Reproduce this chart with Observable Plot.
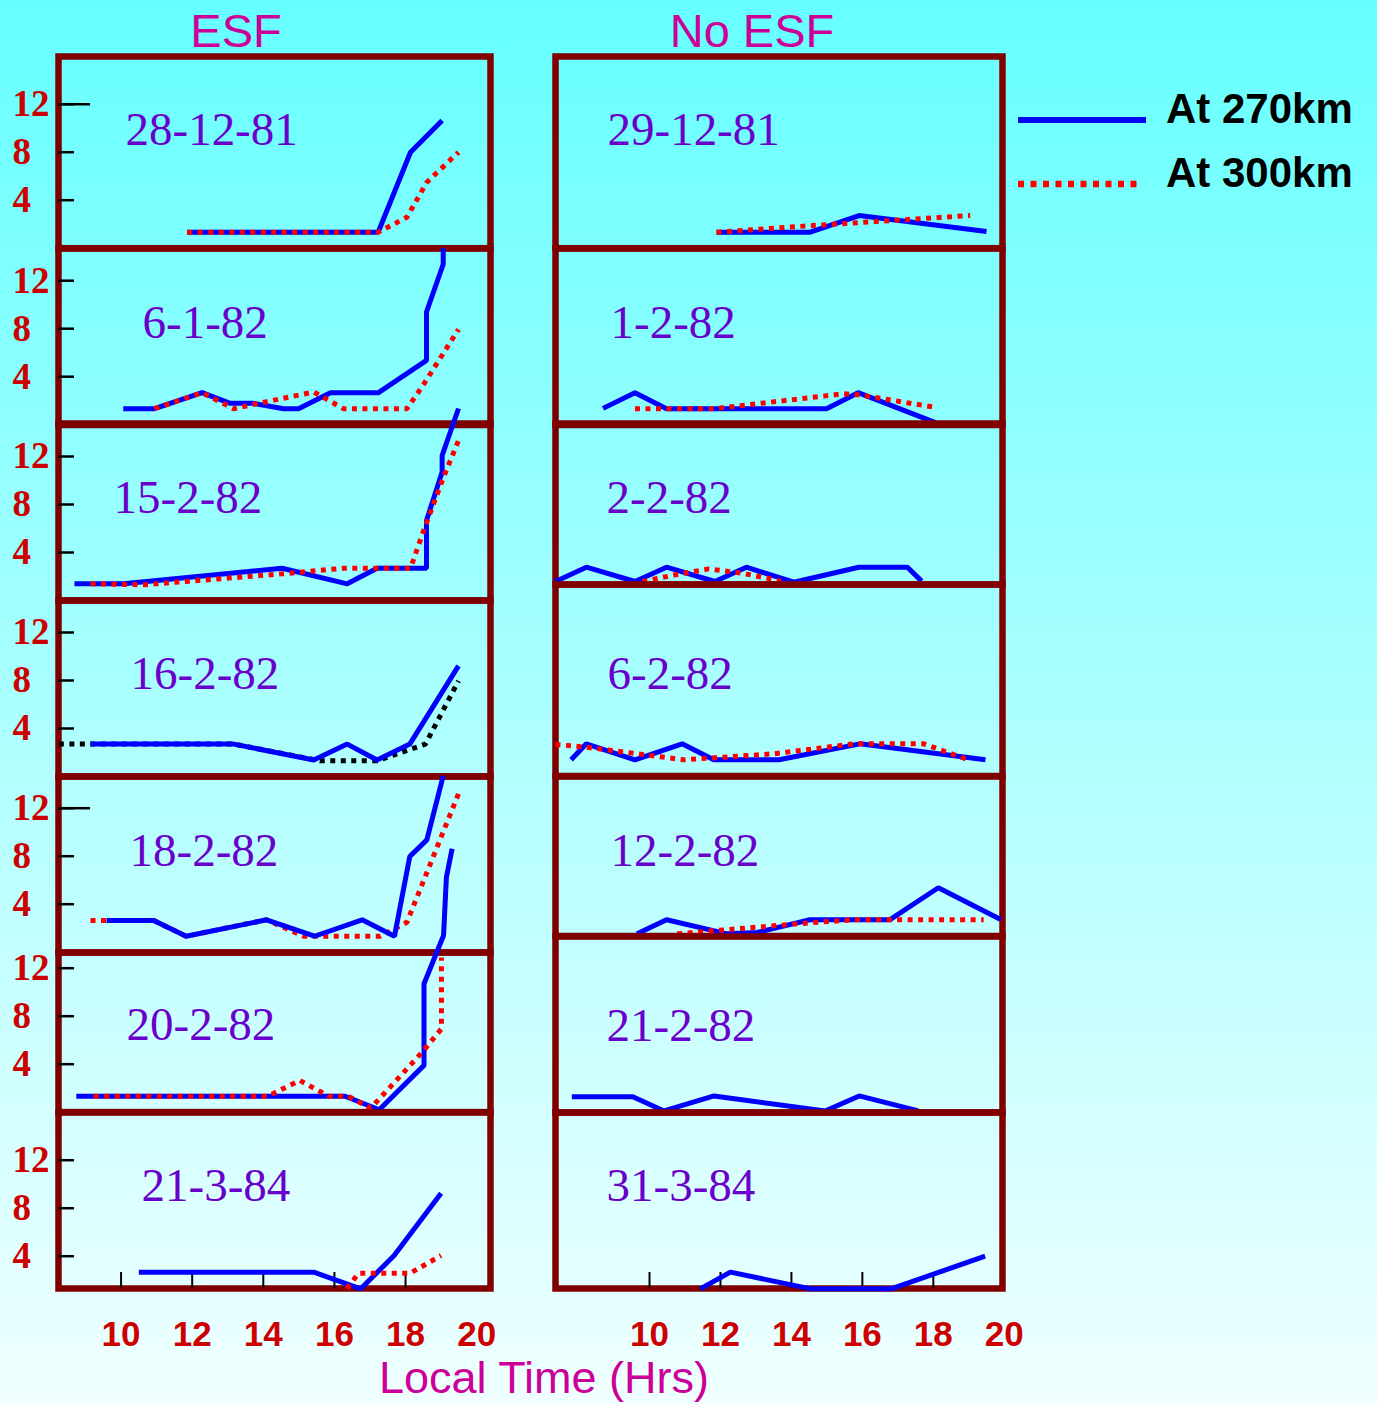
<!DOCTYPE html>
<html><head><meta charset="utf-8">
<script src="https://cdn.jsdelivr.net/npm/d3@7"></script>
<script src="https://cdn.jsdelivr.net/npm/@observablehq/plot@0.6"></script>
<style>
html,body{margin:0;padding:0;}
#root{position:relative;width:1377px;height:1404px;overflow:hidden;background:linear-gradient(to bottom,#66ffff 0%,#f0ffff 100%);}
#root svg{position:absolute;}
</style></head><body><div id="root"></div>
<script>
// ---------------- DATA ----------------
const esfDates = ["28-12-81","6-1-82","15-2-82","16-2-82","18-2-82","20-2-82","21-3-84"];
const noEsfDates = ["29-12-81","1-2-82","2-2-82","6-2-82","12-2-82","21-2-82","31-3-84"];
const yTickValues = [4, 8, 12];
const xTickMarks = [10, 12, 14, 16, 18];
const xTickLabels = [10, 12, 14, 16, 18, 20];
const seriesNames = ["At 270km", "At 300km"];

// [local time (hrs), value]
const esf1_270 = [[11.86,1.33],[17.23,1.33],[18.14,8.0],[19.03,10.64]];
const esf1_300 = [[11.86,1.33],[17.23,1.33],[18.04,2.58],[18.6,5.5],[19.49,8.0]];
const esf2_270 = [[10.06,1.33],[10.94,1.33],[12.28,2.67],[13.07,1.78],[13.73,1.78],[14.57,1.33],[14.99,1.33],[15.89,2.67],[17.24,2.67],[18.59,5.36],[18.59,9.39],[19.06,13.37],[19.06,14.7]];
const esf2_300 = [[10.94,1.33],[12.28,2.67],[13.17,1.33],[13.73,1.7],[15.42,2.72],[16.26,1.33],[18.04,1.33],[18.51,3.36],[19.49,7.95]];
const esf3_270 = [[8.69,1.39],[10.07,1.39],[14.53,2.69],[16.36,1.39],[17.2,2.69],[18.59,2.69],[18.59,6.67],[19.03,10.7],[19.03,12.08],[19.49,16.0]];
const esf3_300 = [[9.14,1.39],[10.64,1.31],[14.53,2.22],[16.26,2.69],[18.14,2.69],[18.51,5.83],[19.07,10.28],[19.49,13.33]];
const esf4_270 = [[9.14,2.7],[13.17,2.7],[15.42,1.37],[16.36,2.7],[17.2,1.37],[18.12,2.7],[19.49,9.22]];
const esf4_300 = [[8.25,2.7],[13.17,2.7],[15.6,1.31],[17.2,1.31],[18.56,2.7],[19.49,7.97]];
const esf5_270 = [[9.59,2.64],[10.92,2.64],[11.83,1.33],[14.09,2.7],[15.44,1.33],[16.78,2.7],[17.69,1.33],[18.12,7.98],[18.6,9.36],[19.06,14.7]];
const esf5_300 = [[9.14,2.64],[10.92,2.64],[11.83,1.33],[14.09,2.7],[15.14,1.33],[17.29,1.33],[18.04,2.5],[19.49,13.2]];
const esf6_270 = [[8.74,1.33],[16.3,1.33],[17.26,0.2],[18.52,3.9],[18.52,10.7],[19.07,14.73],[19.15,19.58],[19.31,21.95]];
const esf6_300 = [[9.23,1.33],[14.12,1.33],[15.03,2.64],[15.84,1.33],[16.39,1.33],[17.02,0.33],[18.47,5.0],[19.01,6.95],[19.01,12.9]];
const esf7_270 = [[10.5,2.67],[15.42,2.67],[16.74,1.28],[17.68,4.06],[19.0,9.25]];
const esf7_300 = [[16.35,1.3],[16.68,2.58],[18.13,2.58],[19.0,4.06]];

const no1_270 = [[11.89,1.33],[14.53,1.33],[15.91,2.72],[19.5,1.39]];
const no1_300 = [[11.89,1.33],[14.6,1.89],[19.04,2.72]];
const no2_270 = [[8.69,1.36],[9.59,2.67],[10.48,1.33],[14.99,1.33],[15.88,2.67],[18.06,0.17]];
const no2_300 = [[9.59,1.33],[11.81,1.33],[15.48,2.58],[15.95,2.47],[18.11,1.42]];
const no3_270 = [[7.35,0.25],[8.22,1.44],[9.59,0.25],[10.48,1.44],[11.84,0.25],[12.73,1.44],[14.07,0.19],[15.9,1.44],[17.27,1.44],[17.67,0.28]];
const no3_300 = [[9.8,0.25],[10.8,0.85],[11.67,1.3],[12.6,0.95],[13.7,0.3]];
const no4_270 = [[7.79,1.35],[8.22,2.68],[9.59,1.35],[10.92,2.68],[11.81,1.35],[13.65,1.35],[15.93,2.68],[19.47,1.35]];
const no4_300 = [[7.35,2.63],[8.22,2.4],[10.97,1.35],[13.5,1.85],[15.76,2.68],[17.73,2.68],[18.91,1.43]];
const no5_270 = [[9.65,0.18],[10.48,1.35],[12.19,0.18],[13.04,0.3],[14.52,1.35],[16.77,1.35],[18.14,4.02],[19.9,1.38]];
const no5_300 = [[10.78,0.18],[14.52,1.1],[15.76,1.35],[19.42,1.35]];
const no6_270 = [[7.81,1.32],[9.53,1.32],[10.41,0.13],[11.82,1.38],[14.95,0.13],[15.91,1.38],[17.58,0.13]];
const no6_300 = [];
const no7_270 = [[11.43,1.28],[12.28,2.67],[14.55,1.28],[16.81,1.28],[19.46,4.0]];
const no7_300 = [];

const esf270 = [esf1_270, esf2_270, esf3_270, esf4_270, esf5_270, esf6_270, esf7_270];
const esf300 = [esf1_300, esf2_300, esf3_300, esf4_300, esf5_300, esf6_300, esf7_300];
const no270 = [no1_270, no2_270, no3_270, no4_270, no5_270, no6_270, no7_270];
const no300 = [no1_300, no2_300, no3_300, no4_300, no5_300, no6_300, no7_300];

// ---------------- LAYOUT / STYLE ----------------
const PXU = 12; // pixels per unit on the vertical scales
const colL = {frameL: 58, frameR: 490, svgLeft: 0, xDomain: [8.24, 20.39],
  rows: [[56,247.7,247.7],[247.5,424,423.7],[423,600,600],[599.7,775.6,775.7],[776,952,951.7],[952,1111.6,1111.7],[1112,1288,1303.7]],
  dateX: [125,142,113,130,129,126,141], yLabels: true, longTick: [true,false,false,false,true,false,false],
  blueOnTop: [false,false,false,true,true,false,false], color300: ["red","red","red","black","red","red","red"]};
const colR = {frameL: 555, frameR: 1002, svgLeft: 535, xDomain: [7.35, 19.95],
  rows: [[56,247.7,247.7],[247.5,424,423.7],[423,584,584],[584,775.5,775.5],[776,935.5,935.5],[935.5,1111.5,1111.5],[1112,1288,1303.7]],
  dateX: [607,610,606,607,610,606,606], yLabels: false, longTick: [false,false,false,false,false,false,false],
  blueOnTop: [false,false,false,false,false,false,false], color300: ["red","red","red","red","red","red","red"]};
const dateBase = [145,337,512,688,865,1040,1200];

const root = document.getElementById("root");

function drawPanel(col, i, date, s270, s300) {
  const [top, bottom, y0] = col.rows[i];
  const isBottom = i === col.rows.length - 1;
  const mT = 20, mB = isBottom ? 90 : 20, mR = 20;
  const mL = col.frameL - col.svgLeft;
  const plotW = col.frameR - col.frameL, plotH = bottom - top;
  const width = mL + plotW + mR, height = mT + plotH + mB;
  const yDomain = [(y0 - bottom) / PXU, (y0 - top) / PXU];
  const lineBlue = Plot.line(s270, {x: d => d[0], y: d => d[1], stroke: "#0000ff", strokeWidth: 5,
    strokeLinejoin: "miter", strokeLinecap: "butt"});
  const c300 = col.color300[i] === "black" ? "#000000" : "#ff0000";
  const lineRed = Plot.line(s300, {x: d => d[0], y: d => d[1], stroke: c300, strokeWidth: 5,
    strokeDasharray: "5,5.5", strokeLinejoin: "miter", strokeLinecap: "butt"});
  const marks = [Plot.frame({stroke: "#800000", strokeWidth: 6.5})];
  if (col.yLabels) {
    marks.push(Plot.ruleY(yTickValues, {y: d => d, stroke: "black", strokeWidth: 2.5, insetRight: plotW - 16}));
    if (col.longTick[i]) marks.push(Plot.ruleY([12], {y: d => d, stroke: "black", strokeWidth: 2.5, insetRight: plotW - 32}));
    marks.push(Plot.text(yTickValues, {y: d => d, text: d => String(d), frameAnchor: "left", dx: 12 - col.frameL,
      textAnchor: "start", lineAnchor: "middle", fontSize: 37, fontWeight: "bold",
      fontFamily: "'Liberation Serif', 'Times New Roman', serif", fill: "#cc0000"}));
  }
  if (isBottom) {
    marks.push(Plot.ruleX(xTickMarks, {x: d => d, stroke: "black", strokeWidth: 2, insetTop: plotH - 16}));
    marks.push(Plot.text(xTickLabels, {x: d => d, text: d => String(d), frameAnchor: "bottom", dy: 57,
      lineAnchor: "bottom", fontSize: 35, fontWeight: "bold",
      fontFamily: "'Liberation Sans', Arial, sans-serif", fill: "#cc0000"}));
  }
  marks.push(Plot.text([date], {text: d => d, frameAnchor: "top-left", dx: col.dateX[i] - col.frameL,
    dy: dateBase[i] - top, lineAnchor: "bottom", textAnchor: "start", fontSize: 47,
    fontFamily: "'Liberation Serif', 'Times New Roman', serif", fill: "#6a00cc"}));
  if (col.blueOnTop[i]) marks.push(lineRed, lineBlue); else marks.push(lineBlue, lineRed);
  const svg = Plot.plot({
    width, height, marginLeft: mL, marginRight: mR, marginTop: mT, marginBottom: mB,
    x: {domain: col.xDomain, axis: null},
    y: {domain: yDomain, axis: null},
    style: {background: "transparent", overflow: "visible"},
    marks
  });
  svg.style.position = "absolute";
  svg.style.left = col.svgLeft + "px";
  svg.style.top = (top - mT) + "px";
  svg.style.maxWidth = "none";
  root.appendChild(svg);
}

for (let i = 0; i < 7; i++) drawPanel(colL, i, esfDates[i], esf270[i], esf300[i]);
for (let i = 0; i < 7; i++) drawPanel(colR, i, noEsfDates[i], no270[i], no300[i]);

// ---------------- HEADINGS, LEGEND, AXIS TITLE ----------------
const ns = "http://www.w3.org/2000/svg";
const ov = document.createElementNS(ns, "svg");
ov.setAttribute("width", 1377); ov.setAttribute("height", 1404);
ov.style.position = "absolute"; ov.style.left = "0px"; ov.style.top = "0px"; ov.style.overflow = "visible";
ov.innerHTML = `
  <g font-family="'Liberation Sans', Arial, sans-serif" fill="#cc0099" font-size="47" text-anchor="middle">
    <text x="236" y="47">ESF</text>
    <text x="752" y="47">No ESF</text>
  </g>
  <text x="544" y="1393" text-anchor="middle" font-family="'Liberation Sans', Arial, sans-serif" fill="#cc0099" font-size="45">Local Time (Hrs)</text>
  <line x1="1018" x2="1146" y1="120" y2="120" stroke="#0000ff" stroke-width="6"/>
  <line x1="1018" x2="1143" y1="184" y2="184" stroke="#ff0000" stroke-width="6.5" stroke-dasharray="6,6.5"/>
  <g font-family="'Liberation Sans', Arial, sans-serif" font-weight="bold" font-size="42" fill="#000">
    <text x="1166" y="123">${seriesNames[0]}</text>
    <text x="1166" y="187">${seriesNames[1]}</text>
  </g>`;
root.appendChild(ov);
</script>
</body></html>
